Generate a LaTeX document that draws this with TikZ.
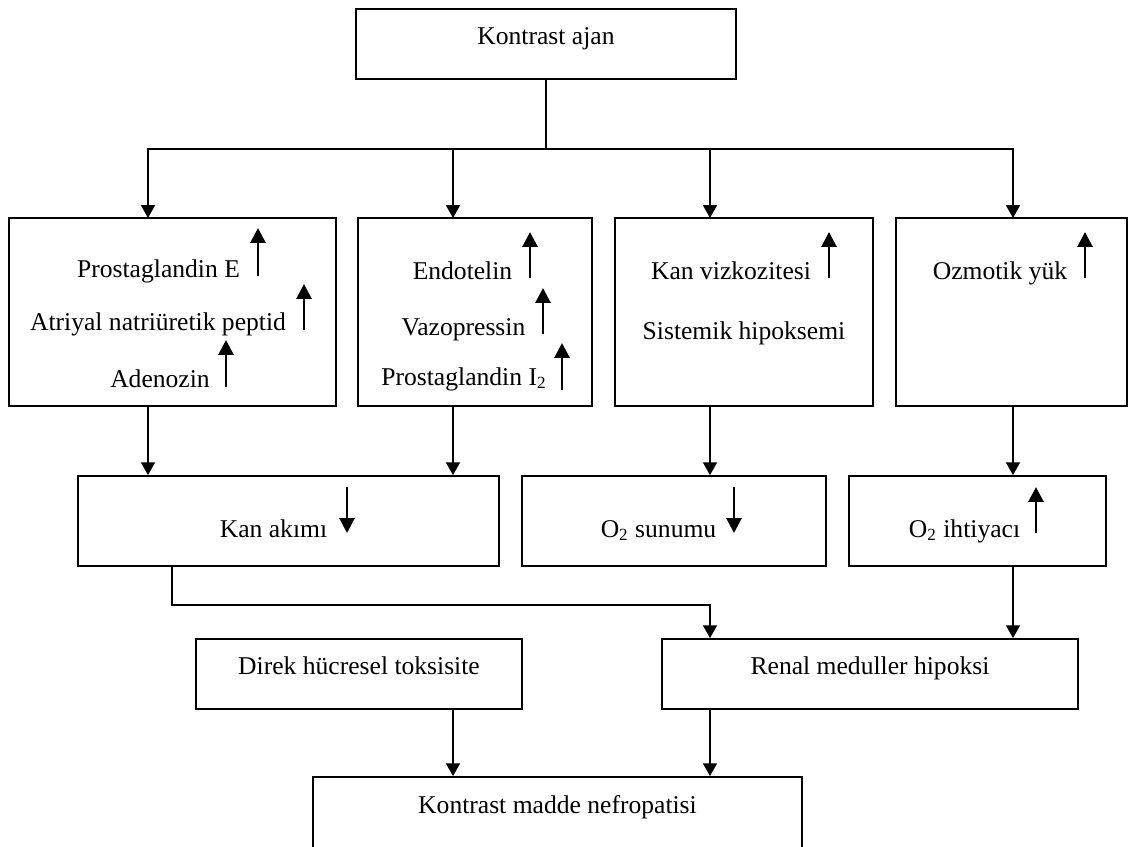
\documentclass[tikz,border=0pt]{standalone}
\usepackage{fontspec}
\setmainfont{Liberation Serif}
\usetikzlibrary{arrows.meta}

\newcommand{\birim}{0.469pt}

\begin{document}
\begin{tikzpicture}[x=\birim, y=-\birim,
        kutu/.style 2 args={draw, line width=0.8pt, inner sep=0pt, minimum width=#1*\birim, minimum height=#2*\birim},
        yazi/.style={anchor=base, inner sep=0pt, font=\fontsize{12}{14}\selectfont},
        ok/.style={-{Triangle[width=6.5pt,length=6pt]}, line width=0.8pt},
        artis/.style={-{Triangle[width=7pt,length=7pt]}, line width=1.4pt}]
        \useasboundingbox (0,0) rectangle (1129,846);
        \clip (0,0) rectangle (1129,846);

        % kutular
        \node[kutu={380}{70}] (ajan) at (546,44) {};
        \node[kutu={327}{188}] (b1) at (172.5,312) {};
        \node[kutu={234}{188}] (b2) at (475,312) {};
        \node[kutu={258}{188}] (b3) at (744,312) {};
        \node[kutu={231}{188}] (b4) at (1011.5,312) {};
        \node[kutu={421}{90}] (kan) at (288.5,521) {};
        \node[kutu={304}{90}] (sun) at (674,521) {};
        \node[kutu={257}{90}] (iht) at (977.5,521) {};
        \node[kutu={326}{70}] (dir) at (359,674) {};
        \node[kutu={416}{70}] (ren) at (870,674) {};
        \node[kutu={489}{103}] (nef) at (557.5,828.5) {};

        % yazilar
        \node[yazi] (ajanY) at (546,44) {Kontrast ajan};
        \node[yazi] (pge) at (158.5,277) {Prostaglandin E};
        \node[yazi] (anp) at (158,330) {Atriyal natriüretik peptid};
        \node[yazi] (ado) at (160,387) {Adenozin};
        \node[yazi] (endo) at (462.5,279) {Endotelin};
        \node[yazi] (vazo) at (463.5,335) {Vazopressin};
        \node[yazi] (pgi) at (464,385) {Prostaglandin I\textsubscript{2}};
        \node[yazi] (vizk) at (731,279) {Kan vizkozitesi};
        \node[yazi] (hipo) at (744,339) {Sistemik hipoksemi};
        \node[yazi] (ozm) at (1000,279) {Ozmotik yük};
        \node[yazi] (kanY) at (273.5,537) {Kan akımı};
        \node[yazi] (sunY) at (658.5,537) {O\textsubscript{2} sunumu};
        \node[yazi] (ihtY) at (964.5,537) {O\textsubscript{2} ihtiyacı};
        \node[yazi] (dirY) at (359,674) {Direk hücresel toksisite};
        \node[yazi] (renY) at (870,674) {Renal meduller hipoksi};
        \node[yazi] (nefY) at (557.5,813) {Kontrast madde nefropatisi};

        % artis / azalis oklari
        \draw[artis] (258,276) -- (258,228);
        \draw[artis] (304,330) -- (304,284);
        \draw[artis] (226,387) -- (226,340);
        \draw[artis] (530,278) -- (530,232);
        \draw[artis] (543,334) -- (543,288);
        \draw[artis] (562,390) -- (562,343);
        \draw[artis] (829,278) -- (829,232);
        \draw[artis] (1085,278) -- (1085,232);
        \draw[artis] (347,487) -- (347,533);
        \draw[artis] (734,487) -- (734,533);
        \draw[artis] (1036,533) -- (1036,487);

        % baglantilar
        \coordinate (split) at (546,149);
        \coordinate (t1) at (148,218);
        \coordinate (t2) at (453,218);
        \coordinate (t3) at (710,218);
        \coordinate (t4) at (1013,218);
        \coordinate (dirsek) at (172,605);

        \draw[line width=0.8pt] (ajan) -- (split);
        \foreach \t in {t1,t2,t3,t4}
            \draw[ok] (split) -| (\t);
        \draw[ok] (t1 |- b1.south) -- (t1 |- kan.north);
        \draw[ok] (t2 |- b2.south) -- (t2 |- kan.north);
        \draw[ok] (t3 |- b3.south) -- (t3 |- sun.north);
        \draw[ok] (t4 |- b4.south) -- (t4 |- iht.north);
        \draw[ok] (dirsek |- kan.south) -- (dirsek) -| (t3 |- ren.north);
        \draw[ok] (t4 |- iht.south) -- (t4 |- ren.north);
        \draw[ok] (t2 |- dir.south) -- (t2 |- nef.north);
        \draw[ok] (t3 |- ren.south) -- (t3 |- nef.north);
\end{tikzpicture}
\end{document}
